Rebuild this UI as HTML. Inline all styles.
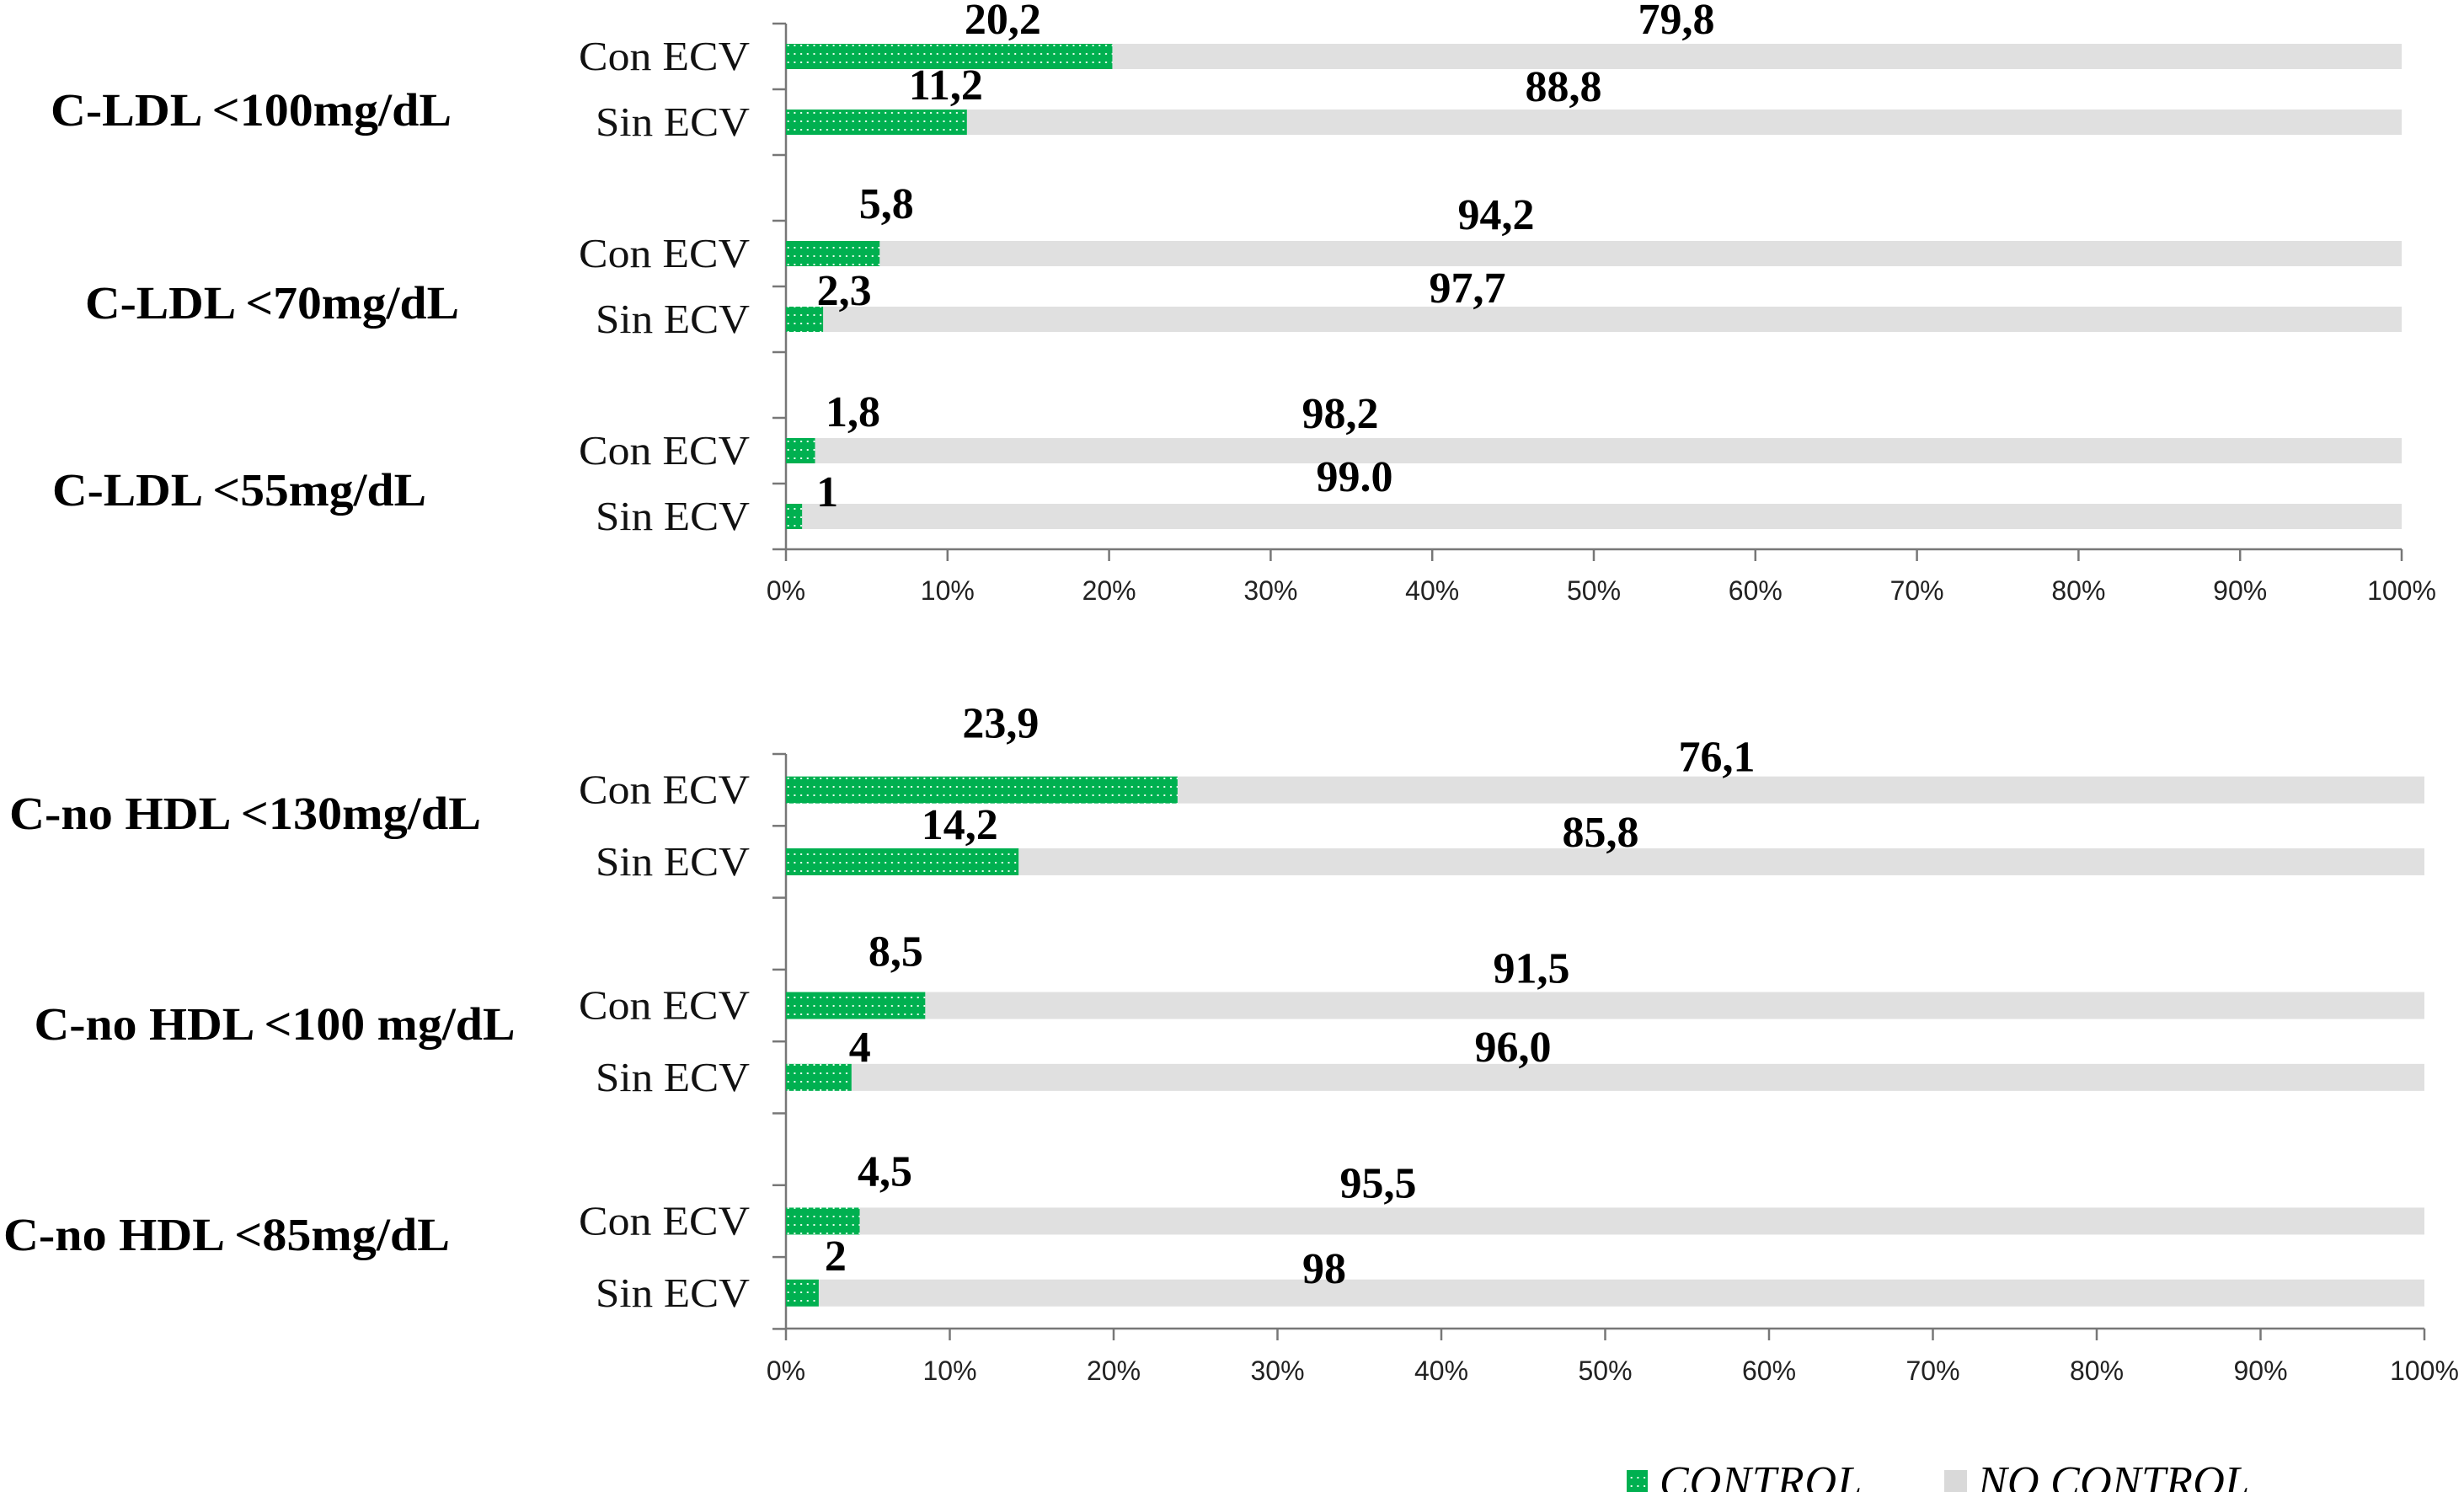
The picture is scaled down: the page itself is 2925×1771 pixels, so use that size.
<!DOCTYPE html>
<html><head><meta charset="utf-8"><style>
html,body{margin:0;padding:0;background:#fff;}
svg{display:block;}
.ser{font-family:"Liberation Serif",serif;}
.sans{font-family:"Liberation Sans",sans-serif;}
</style></head><body>
<svg id="chart" width="2925" height="1771" viewBox="0 0 2925 1771" xmlns="http://www.w3.org/2000/svg">
<defs>
<pattern id="dots" width="7.7" height="10" patternUnits="userSpaceOnUse">
<rect width="7.7" height="10" fill="#00b050"/>
<rect x="3" y="3" width="2" height="2" fill="#e8fff0"/>
</pattern>
</defs>
<g id="root"></g>
</svg>
<script>
const groupLabels = ["C-LDL <100mg/dL","C-LDL <70mg/dL","C-LDL <55mg/dL","C-no HDL <130mg/dL","C-no HDL <100 mg/dL","C-no HDL <85mg/dL"];
const rowLabels = ["Con ECV","Sin ECV"];
const controlValues = [20.2,11.2,5.8,2.3,1.8,1.0,23.9,14.2,8.5,4,4.5,2];
const noControlValues = [79.8,88.8,94.2,97.7,98.2,99.0,76.1,85.8,91.5,96.0,95.5,98];
const controlText = ["20,2","11,2","5,8","2,3","1,8","1","23,9","14,2","8,5","4","4,5","2"];
const noControlText = ["79,8","88,8","94,2","97,7","98,2","99.0","76,1","85,8","91,5","96,0","95,5","98"];
const tickValues = [0,10,20,30,40,50,60,70,80,90,100];

const NS="http://www.w3.org/2000/svg";
const root=document.getElementById('root');
function mk(tag,attrs,parent){const e=document.createElementNS(NS,tag);for(const k in attrs)e.setAttribute(k,attrs[k]);(parent||root).appendChild(e);return e;}

const panels=[
 {x0:933,x1:2851,top:28,band:78,barH:30,axisY:652,tickY:701,labelX:[298,323,284],labelW:[476,444,444],labelY:[131,360,582],
  cOff:[[-130,-45],[-25,-45],[8,-60],[25,-35],[45,-47],[30,-30]],
  nX:[1990,1856,1776,1742,1591,1608],nY:[-45,-43,-47,-38,-45,-48]},
 {x0:933,x1:2878,top:895,band:85.3,barH:32,axisY:1577,tickY:1627,labelX:[291,326,269],labelW:[560,571,530],labelY:[966,1216,1466],
  cOff:[[-210,-80],[-70,-45],[-35,-65],[10,-37],[30,-60],[20,-45]],
  nX:[2038,1900,1818,1796,1636,1572],nY:[-40,-36,-45,-37,-46,-30]}
];

panels.forEach((p,pi)=>{
  const g=mk('g',{});
  
  
  const xs=v=>p.x0+(p.x1-p.x0)*v/100;
  const bottom=p.top+p.band*8;
  const ya=mk('line',{x1:p.x0,y1:p.top,x2:p.x0,y2:bottom,stroke:'#777','stroke-width':2.5},g);
  
  
  for(let i=0;i<=8;i++){mk('line',{x1:p.x0-16,y1:p.top+i*p.band,x2:p.x0,y2:p.top+i*p.band,stroke:'#777','stroke-width':2.5},g);}
  const xa=mk('line',{x1:p.x0,y1:p.axisY,x2:p.x1,y2:p.axisY,stroke:'#777','stroke-width':2.5},g);
  
  
  tickValues.forEach(t=>{
    mk('line',{x1:xs(t),y1:p.axisY,x2:xs(t),y2:p.axisY+14,stroke:'#777','stroke-width':2.5},g);
    const tl=mk('text',{x:xs(t),y:p.tickY+11,'text-anchor':'middle','font-size':32,class:'sans',fill:'#222'},g);
    
    
    tl.textContent=t+'%';
  });
  for(let gi=0;gi<3;gi++){
    const G=pi*3+gi;
    const gl=mk('text',{x:p.labelX[gi],y:p.labelY[gi]+18,'text-anchor':'middle','font-size':55,'font-weight':'bold',class:'ser',fill:'#000',textLength:p.labelW[gi],lengthAdjust:'spacingAndGlyphs'},g);
    
    
    gl.textContent=groupLabels[G];
    for(let r=0;r<2;r++){
      const idx=G*2+r;
      const row=gi*3+r;
      const cy=p.top+p.band*(row+0.5);
      const rl=mk('text',{x:890,y:cy+16,'text-anchor':'end','font-size':49,class:'ser',fill:'#111',textLength:r===0?203:183,lengthAdjust:'spacingAndGlyphs'},g);
      
      
      rl.textContent=rowLabels[r];
      const c=controlValues[idx], n=noControlValues[idx];
      const nb=mk('rect',{x:xs(c),y:cy-p.barH/2,width:xs(c+n)-xs(c),height:p.barH,fill:'#e0e0e0'},g);
      
      
      const cb=mk('rect',{x:xs(0),y:cy-p.barH/2,width:xs(c)-xs(0),height:p.barH,fill:'url(#dots)'},g);
      
      
      const k=gi*2+r;
      const ct=mk('text',{x:xs(c)+p.cOff[k][0],y:cy+p.cOff[k][1]+18,'text-anchor':'middle','font-size':52,'font-weight':'bold',class:'ser',fill:'#000'},g);
      
      
      ct.textContent=controlText[idx];
      const nt=mk('text',{x:p.nX[k],y:cy+p.nY[k]+18,'text-anchor':'middle','font-size':52,'font-weight':'bold',class:'ser',fill:'#000'},g);
      
      
      nt.textContent=noControlText[idx];
    }
  }
});
const lg=mk('g',{});


const ls1=mk('rect',{x:1931,y:1745,width:25,height:26,fill:'url(#dots)'},lg);


const lt1=mk('text',{x:1970,y:1776,'font-size':52,'font-style':'italic',class:'ser',fill:'#000',textLength:240},lg);


lt1.textContent='CONTROL';
const ls2=mk('rect',{x:2308,y:1745,width:27,height:26,fill:'#d9d9d9'},lg);


const lt2=mk('text',{x:2348,y:1776,'font-size':52,'font-style':'italic',class:'ser',fill:'#000',textLength:322},lg);


lt2.textContent='NO CONTROL';
</script>
</body></html>
